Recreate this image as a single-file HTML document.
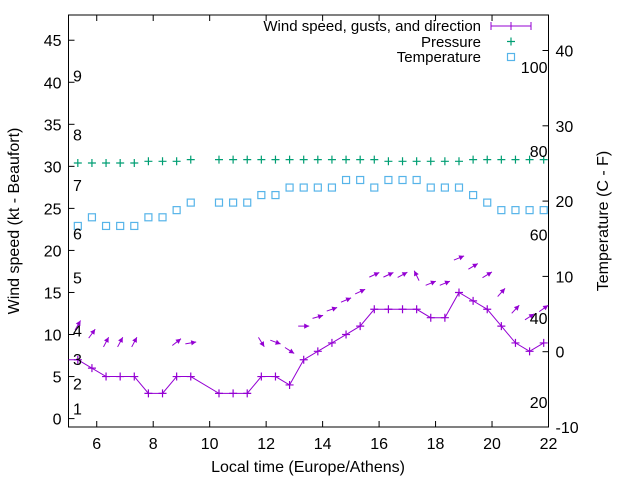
<!DOCTYPE html>
<html><head><meta charset="utf-8"><style>
html,body{margin:0;padding:0;background:#fff;}
svg{display:block;font-family:"Liberation Sans",Arial,sans-serif;}
</style></head><body>
<svg id="chart" width="640" height="480" viewBox="0 0 640 480">
<rect x="0" y="0" width="640" height="480" fill="#fff"/>
<defs><clipPath id="plotclip"><rect x="68.5" y="15" width="480" height="412"/></clipPath></defs>
<g id="grid"></g>
<g id="marks" clip-path="url(#plotclip)"></g>
<g id="labels"></g>
</svg>
<script>
// ---- data ----
const windTimes = [4.83,5.33,5.83,6.33,6.83,7.33,7.83,8.33,8.83,9.33,10.33,10.83,11.33,11.83,12.33,12.83,13.33,13.83,14.33,14.83,15.33,15.83,16.33,16.83,17.33,17.83,18.33,18.83,19.33,19.83,20.33,20.83,21.33,21.83];
const windSpeed = [7,7,6,5,5,5,3,3,5,5,3,3,3,5,5,4,7,8,9,10,11,13,13,13,13,12,12,15,14,13,11,9,8,9];
const gustTimes = [5.33,5.83,6.33,6.83,7.33,8.83,9.33,11.83,12.33,12.83,13.33,13.83,14.33,14.83,15.33,15.83,16.33,16.83,17.33,17.83,18.33,18.83,19.33,19.83,20.33,20.83,21.33,21.83];
const gustSpeed = [11.1,10.1,9.1,9.1,9.1,9.1,9.0,9.1,9.1,8.1,11,12.1,13,14.1,15.1,17.1,17.1,17.1,17,16.1,16.1,19.1,18.1,17.1,15,13,12.1,13.1];
const gustAngle = [60,54,62,62,62,38,10,-58,-20,-33,0,16,19,23,25,25,25,28,116,22,22,22,31,31,48,47,33,35];
const pressTimes = [5.33,5.83,6.33,6.83,7.33,7.83,8.33,8.83,9.33,10.33,10.83,11.33,11.83,12.33,12.83,13.33,13.83,14.33,14.83,15.33,15.83,16.33,16.83,17.33,17.83,18.33,18.83,19.33,19.83,20.33,20.83,21.33,21.83];
const pressValues = [30.4,30.4,30.4,30.4,30.4,30.6,30.6,30.6,30.8,30.8,30.8,30.8,30.8,30.8,30.8,30.8,30.8,30.8,30.8,30.8,30.8,30.6,30.6,30.6,30.6,30.6,30.6,30.8,30.8,30.8,30.8,30.8,30.8];
const tempTimes = pressTimes;
const tempValues = [16.7,17.85,16.7,16.7,16.7,17.85,17.85,18.8,19.8,19.8,19.8,19.8,20.8,20.8,21.8,21.8,21.8,21.8,22.8,22.8,21.8,22.8,22.8,22.8,21.8,21.8,21.8,20.8,19.8,18.8,18.8,18.8,18.8];
const xTicks = [6,8,10,12,14,16,18,20,22];
const yTicks = [0,5,10,15,20,25,30,35,40,45];
const y2Ticks = [-10,0,10,20,30,40];
const fTicks = [20,40,60,80,100];
const bftLevels = [1,2,3,4,5,6,7,8,9];
const bftY = [1.2,4.2,7.1,10.5,16.8,22,27.8,33.8,40.8];

// ---- axes ----
const L=68.5,R=548.5,T=15,B=427;
const X = t => L + (t-5)*(R-L)/17;
const Y = v => B - (v+1)*(B-T)/49;
const Y2 = c => B - (c+10)*7.53;
const NS='http://www.w3.org/2000/svg';
function mk(tag, parent, attrs){const e=document.createElementNS(NS,tag);for(const k in attrs)e.setAttribute(k,attrs[k]);parent.appendChild(e);return e;}
const grid=document.getElementById('grid'), marks=document.getElementById('marks'), labels=document.getElementById('labels');
const PURPLE='#9400d3', GREEN='#009e73', BLUE='#56b4e9';

const box=mk('rect',grid,{x:L,y:T,width:R-L,height:B-T,fill:'none',stroke:'#000','stroke-width':1});



xTicks.forEach(t=>{
  const x=X(t);
  const tk=mk('path',grid,{d:`M${x},${B}v-6M${x},${T}v6`,stroke:'#000'});
  
  
  const lb=mk('text',labels,{x:x,y:B+22,'font-size':16,'text-anchor':'middle',fill:'#000'});
  lb.textContent=t;
  
  
});
yTicks.forEach(v=>{
  const y=Y(v);
  const tk=mk('path',grid,{d:`M${L},${y}h6`,stroke:'#000'});
  
  
  const lb=mk('text',labels,{x:L-7,y:y+6,'font-size':16,'text-anchor':'end',fill:'#000'});
  lb.textContent=v;
  
  
});
y2Ticks.forEach(c=>{
  const y=Y2(c);
  const tk=mk('path',grid,{d:`M${R},${y}h-6`,stroke:'#000'});
  
  
  const lb=mk('text',labels,{x:R+7,y:y+6,'font-size':16,'text-anchor':'start',fill:'#000'});
  lb.textContent=c;
  
  
});
fTicks.forEach(f=>{
  const y=Y2((f-32)*5/9);
  const lb=mk('text',labels,{x:R-1,y:y+6,'font-size':16,'text-anchor':'end',fill:'#000'});
  lb.textContent=f;
  
  
});
bftLevels.forEach((b,i)=>{
  const lb=mk('text',labels,{x:73,y:Y(bftY[i])+6,'font-size':16,fill:'#000'});
  lb.textContent=b;
  
  
});

// ---- series ----
// pressure
pressTimes.forEach((t,i)=>{
  const x=X(t),y=Y(pressValues[i]);
  const p=mk('path',marks,{d:`M${x-4},${y}h8M${x},${y-4}v8`,stroke:GREEN,'stroke-width':1.2});
  
  
});
// temperature
tempTimes.forEach((t,i)=>{
  const x=X(t),y=Y2(tempValues[i]);
  const r=mk('rect',marks,{x:x-3.5,y:y-3.5,width:7,height:7,fill:'none',stroke:BLUE,'stroke-width':1.2});
  
  
});
// wind line
let d='';
windTimes.forEach((t,i)=>{d+=(i?'L':'M')+X(t)+','+Y(windSpeed[i]);});
const wl=mk('path',marks,{d:d,fill:'none',stroke:PURPLE,'stroke-width':1});


windTimes.forEach((t,i)=>{
  const x=X(t),y=Y(windSpeed[i]);
  const p=mk('path',marks,{d:`M${x-4},${y}h8M${x},${y-4}v8`,stroke:PURPLE,'stroke-width':1.2});
  
  
});
// gust arrows
gustTimes.forEach((t,i)=>{
  const cx=X(t),cy=Y(gustSpeed[i]);
  const a=gustAngle[i]*Math.PI/180, dx=Math.cos(a), dy=-Math.sin(a), len=11;
  const x0=cx-dx*len/2,y0=cy-dy*len/2,x1=cx+dx*len/2,y1=cy+dy*len/2;
  const g=mk('g',marks,{});
  
  
  mk('line',g,{x1:x0,y1:y0,x2:x1,y2:y1,stroke:PURPLE,'stroke-width':1});
  const hx=x1-dx*5,hy=y1-dy*5,px=-dy*2.6,py=dx*2.6;
  mk('polygon',g,{points:`${x1},${y1} ${hx+px},${hy+py} ${hx-px},${hy-py}`,fill:PURPLE});
});

// ---- legend ----
function legText(txt,y,name){const t=mk('text',labels,{x:481,y:y,'font-size':15,'text-anchor':'end',fill:'#000'});t.textContent=txt;}
legText('Wind speed, gusts, and direction',31,'legend-wind');
legText('Pressure',47,'legend-pressure');
legText('Temperature',62,'legend-temperature');
const lw=mk('path',labels,{d:'M491,26h40M491,22v8M531,22v8M511,22v8',stroke:PURPLE,'stroke-width':1});


const lp=mk('path',labels,{d:'M507,41.5h8M511,37.5v8',stroke:GREEN,'stroke-width':1.2});


const lt=mk('rect',labels,{x:507.5,y:53.5,width:7,height:7,fill:'none',stroke:BLUE,'stroke-width':1.2});



// ---- axis titles ----
const xt=mk('text',labels,{x:308,y:472,'font-size':16,'text-anchor':'middle',fill:'#000'});
xt.textContent='Local time (Europe/Athens)';


const yt=mk('text',labels,{x:0,y:0,'font-size':16,'text-anchor':'middle',fill:'#000',transform:'translate(19,221) rotate(-90)'});
yt.textContent='Wind speed (kt - Beaufort)';


const y2t=mk('text',labels,{x:0,y:0,'font-size':16,'text-anchor':'middle',fill:'#000',transform:'translate(608,221) rotate(-90)'});
y2t.textContent='Temperature (C - F)';


</script>
</body></html>
